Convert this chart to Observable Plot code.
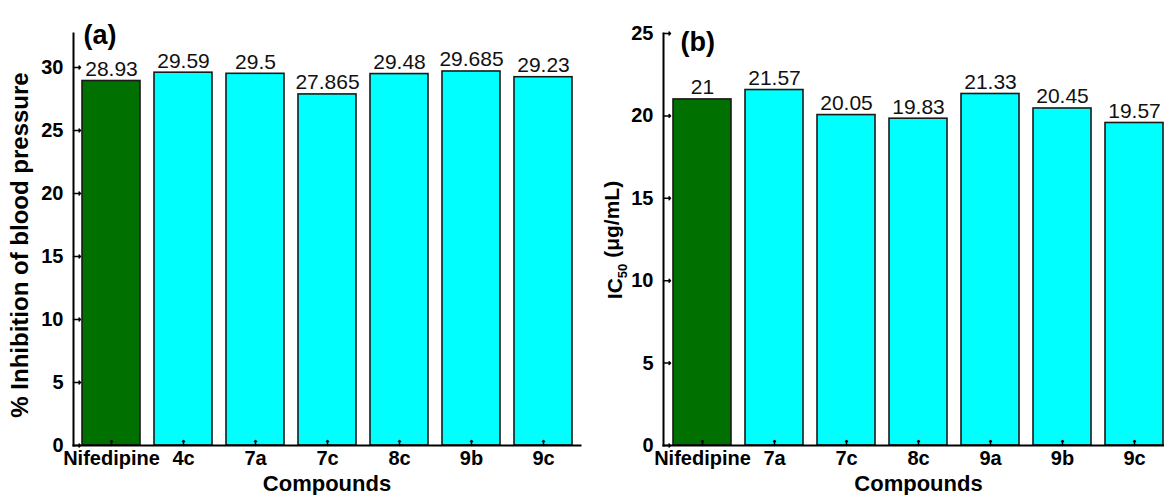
<!DOCTYPE html>
<html>
<head>
<meta charset="utf-8">
<script src="https://cdn.jsdelivr.net/npm/d3@7"></script>
<script src="https://cdn.jsdelivr.net/npm/@observablehq/plot@0.6"></script>
<style>
  html, body { margin: 0; padding: 0; background: #fff; overflow: hidden; }
  #wrap { position: relative; width: 1164px; height: 495px; overflow: hidden; background: #fff; }
  #wrap svg { position: absolute; top: 0; }
</style>
</head>
<body>
<div id="wrap"></div>
<script>
// ---- data ----
const compoundsA = ["Nifedipine", "4c", "7a", "7c", "8c", "9b", "9c"];
const inhibitionA = [28.93, 29.59, 29.5, 27.865, 29.48, 29.685, 29.23];
const compoundsB = ["Nifedipine", "7a", "7c", "8c", "9a", "9b", "9c"];
const ic50B = [21, 21.57, 20.05, 19.83, 21.33, 20.45, 19.57];
const ticksA = [0, 5, 10, 15, 20, 25, 30];
const ticksB = [0, 5, 10, 15, 20, 25];
const panelLabels = ["(a)", "(b)"];
const xTitle = "Compounds";
const yTitleA = "% Inhibition of blood pressure";
const yTitleB = ["IC", "50", " (μg/mL)"];
const referenceDrug = "Nifedipine";

// ---- style ----
const FONT = "'Liberation Sans', Arial, Helvetica, sans-serif";
const GREEN = "#007000";
const CYAN = "#00ffff";

function panel({cats, vals, ticks, yMax, label, labelDx, labelDy, left, width, marginRight}) {
  const data = cats.map((c, i) => ({c, v: vals[i]}));
  const svg = Plot.plot({
    width, height: 495,
    marginLeft: 73, marginRight, marginTop: 33, marginBottom: 50,
    style: {fontFamily: FONT, background: "transparent", overflow: "visible", color: "#000"},
    x: {type: "band", domain: cats, paddingInner: 0.2, paddingOuter: 0.1, label: null},
    y: {domain: [0, yMax], label: null},
    marks: [
      Plot.barY(data, {x: "c", y: "v", fill: d => d.c === referenceDrug ? GREEN : CYAN, stroke: "#1a1a1a", strokeWidth: 1.6}),
      Plot.text(data, {x: "c", y: "v", text: d => String(d.v), lineAnchor: "bottom", dy: -5, fontSize: 21, fill: "#111"}),
      Plot.axisX({tickSize: 0, tickPadding: 5, fontSize: 20, fontWeight: "bold", label: null}),
      Plot.axisY(ticks, {tickSize: 0, tickPadding: 10, fontSize: 20, fontWeight: "bold", label: null}),
      Plot.vector(ticks, {y: d => d, frameAnchor: "left", length: 7, rotate: 90, anchor: "start", stroke: "#000", strokeWidth: 1.5}),
      Plot.vector(cats, {x: d => d, frameAnchor: "bottom", length: 5, rotate: 0, anchor: "start", stroke: "#000", strokeWidth: 1.5}),
      Plot.frame({anchor: "left", stroke: "#000", strokeWidth: 2}),
      Plot.frame({anchor: "bottom", stroke: "#000", strokeWidth: 2}),
      Plot.text([label], {frameAnchor: "top-left", textAnchor: "start", lineAnchor: "middle", dx: labelDx, dy: labelDy, fontSize: 27, fontWeight: "bold", fill: "#000"}),
      Plot.text([xTitle], {frameAnchor: "bottom", lineAnchor: "bottom", dy: 45, fontSize: 22, fontWeight: "bold", fill: "#000"})
    ]
  });
  svg.style.left = left + "px";
  document.getElementById("wrap").appendChild(svg);
  return d3.select(svg);
}

const a = panel({cats: compoundsA, vals: inhibitionA, ticks: ticksA, yMax: 32.7, label: panelLabels[0], labelDx: 10, labelDy: 2, left: 0, width: 590, marginRight: 10});
a.append("text")
  .attr("transform", "translate(28,245) rotate(-90)")
  .attr("text-anchor", "middle")
  .style("font-family", FONT).style("font-size", "24px").style("font-weight", "bold")
  .attr("fill", "#000")
  .text(yTitleA);

const b = panel({cats: compoundsB, vals: ic50B, ticks: ticksB, yMax: 25, label: panelLabels[1], labelDx: 17, labelDy: 9, left: 590, width: 590, marginRight: 7});
const tb = b.append("text")
  .attr("transform", "translate(32,240) rotate(-90)")
  .attr("text-anchor", "middle")
  .style("font-family", FONT).style("font-size", "21px").style("font-weight", "bold")
  .attr("fill", "#000");
tb.append("tspan").text(yTitleB[0]);
tb.append("tspan").attr("dy", "0.35em").style("font-size", "13px").text(yTitleB[1]);
tb.append("tspan").attr("dy", "-0.35em").text(yTitleB[2]);
</script>
</body>
</html>
